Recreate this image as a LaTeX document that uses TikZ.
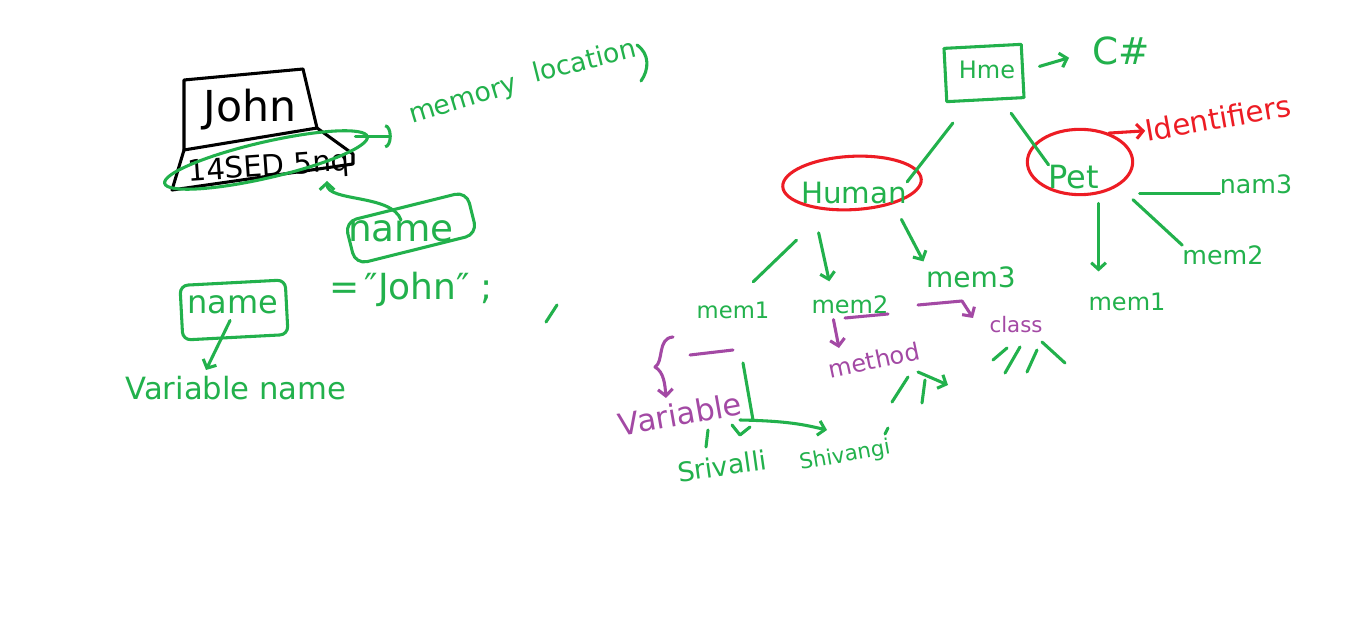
\documentclass[tikz,border=0pt]{standalone}
\usepackage{fontspec}
\setmainfont{DejaVu Sans}
\usetikzlibrary{arrows.meta,shapes.geometric,calc}
\definecolor{pgreen}{RGB}{34,177,76}
\definecolor{pred}{RGB}{237,28,36}
\definecolor{ppurple}{RGB}{163,73,164}
\begin{document}
\begin{tikzpicture}[x=0.75pt,y=-0.75pt,line cap=round,line join=round,
  pen/.style={line width=2.3pt},
  gline/.style={pen,draw=pgreen},
  rline/.style={pen,draw=pred},
  pline/.style={pen,draw=ppurple},
  kline/.style={pen,draw=black},
  tip/.style={-{Straight Barb[length=5pt,width=11pt]}},
  txt/.style={inner sep=0pt,font=\fontsize{#1}{#1}\selectfont},
  gtxt/.style={txt=#1,text=pgreen},
  ptxt/.style={txt=#1,text=ppurple},
  rtxt/.style={txt=#1,text=pred},
  ktxt/.style={txt=#1,text=black},
]
\fill[white] (0,0) rectangle (1360,623);
\useasboundingbox (0,0) rectangle (1360,623);

% ---------------- left part ----------------
\draw[kline] (184,80) -- (303,69) -- (317,128) -- (184,150) -- cycle;
\draw[kline] (184,150) -- (172,190) -- (353,164) -- (353,154) -- (317,128);
\node[ktxt=32] (john) at (250,110) {John};
\node[ktxt=22, rotate=4] (addr) at (269,168) {14SED 5nq};
\node[gline, ellipse, inner sep=0pt, minimum width=156pt, minimum height=27pt, rotate=13] (addrOval) at (266,160) {};

\node[gtxt=20, rotate=17] (memory) at (464,103) {memory};
\node[gtxt=20, rotate=14] (location) at (584,60) {location};
\draw[gline] (637,45) .. controls (650,54) and (649,70) .. (641,81);
\draw[gline, -{Arc Barb[length=5pt,width=18pt]}, shorten <=-10pt, shorten >=14pt]
  (addrOval.east) -- (addrOval.east -| memory.west);

\node[gline, rounded corners=9pt, minimum width=94pt, minimum height=33pt, rotate=14] (nameAbox) at (411,228) {};
\node[gtxt=28] (nameA) at (401,231) {name};
\coordinate (nameTip) at (327,181);
\draw[gline,tip] (nameA.north) .. controls (392,194) and (327,202) .. (nameTip);

\node[gline, rounded corners=6pt, minimum width=79pt, minimum height=41pt, rotate=3] (nameBbox) at (234,310) {};
\node[gtxt=24] (nameB) at (233,305) {name};
\node[gtxt=27, anchor=base] (assign) at (411,300) {=\hspace{4pt}″John″\hspace{8pt};};
\draw[gline] (557,305) -- (546,322);
\node[gtxt=23] (varname) at (236,388) {Variable name};
\coordinate (varTip) at (206,370);
\draw[gline,tip,shorten <=5pt] (nameB.south) -- (varTip);

% ---------------- right part ----------------
\node[gline, minimum width=58pt, minimum height=40pt, rotate=3] (topbox) at (984,73) {};
\node[gtxt=18] (hme) at (987,70) {Hme};
\node[gtxt=28] (csharp) at (1121,51) {C\#};
\draw[gline,tip,shorten <=12pt,shorten >=18pt] (topbox.east) -- (csharp.west);

\node[rline, ellipse, minimum width=104pt, minimum height=40pt, rotate=3] (humanOval) at (852,183) {};
\node[gtxt=22] (human) at (854,193) {Human};
\node[rline, ellipse, minimum width=79pt, minimum height=49pt] (petOval) at (1080,162) {};
\node[gtxt=24] (pet) at (1074,177) {Pet};
\node[rtxt=22, rotate=10] (ident) at (1218,118) {Identifiers};
\draw[gline, shorten <=20pt] (topbox.-120) -- (human.north east);
\draw[gline, shorten <=12pt] (topbox.-60) -- (pet.north west);
\draw[rline,tip] (petOval.45) -- (ident.west);

\node[gtxt=19] (nam3) at (1256,184) {nam3};
\node[gtxt=19] (mem2R) at (1223,255) {mem2};
\node[gtxt=18] (mem1R) at (1127,302) {mem1};
\draw[gline, shorten >=4pt] (nam3.base west) -- (nam3.base west -| petOval.east);
\draw[gline, shorten <=15pt] (petOval.south east) -- (mem2R.north west);
\draw[gline,tip,shorten <=7pt,shorten >=16pt] (petOval.-60) -- (petOval.-60 |- mem1R.north);

\node[gtxt=17] (mem1L) at (733,310) {mem1};
\node[gtxt=18] (mem2M) at (850,305) {mem2};
\node[gtxt=21] (mem3M) at (971,277) {mem3};
\draw[gline, shorten <=32pt, shorten >=21pt] (humanOval.-135) -- (mem1L.north);
\draw[gline,tip, shorten <=22pt, shorten >=11pt] (human.-165) -- (mem2M.152);
\draw[gline,tip, shorten <=13pt, shorten >=4pt] (humanOval.-30) -- (mem3M.north west);

% purple notes
\draw[pline] (845,318) -- (888,314);
\node[ptxt=18, rotate=12] (method) at (874,360) {method};
\coordinate (methodTip) at (839,348);
\draw[pline,tip,shorten <=4pt] (mem2M.-152) -- (methodTip);
\node[ptxt=16] (class) at (1016,325) {class};
\coordinate (classStart) at (918,305);
\coordinate (classBend) at (962,301);
\coordinate (classTip) at (973,318);
\draw[pline,tip] (classStart) -- (classBend) -- (classTip);

\draw[pline] (690,355) -- (733,350);
\node[ptxt=23, rotate=10] (variable) at (680,414) {Variable};
\coordinate (varBrStart) at (673,337);
\coordinate (varBrTip) at (666,398);
\draw[pline,tip] (varBrStart) .. controls (657,338) and (664,362) .. (655,367) .. controls (664,372) and (665,385) .. (varBrTip);

% values
\node[gtxt=20, rotate=8] (srivalli) at (722,466) {Srivalli};
\node[gtxt=16, rotate=10] (shivangi) at (845,456) {Shivangi};
\coordinate (valTop) at (743,363);
\coordinate (valJoin) at (753,420);
\coordinate (valLeft) at (740,420);
\coordinate (shivTip) at (827,430);
\draw[gline] (valTop) -- (valJoin);
\draw[gline,tip] (valLeft) .. controls (790,421) and (805,425) .. (shivTip);
\draw[gline] (732,425) -- (740,435) -- (750,427);
\draw[gline] (708,430) -- (706,447);
\draw[gline] (885,434) -- (888,428);

% marks
\draw[gline] (993,360) -- (1007,348);
\draw[gline] (1005,373) -- (1020,347);
\draw[gline] (1027,372) -- (1037,350);
\draw[gline] (1042,342) -- (1065,363);
\draw[gline] (892,402) -- (908,377);
\draw[gline] (922,403) -- (925,380);
\draw[gline,tip] (918,372) -- (948,385);
\end{tikzpicture}
\end{document}
